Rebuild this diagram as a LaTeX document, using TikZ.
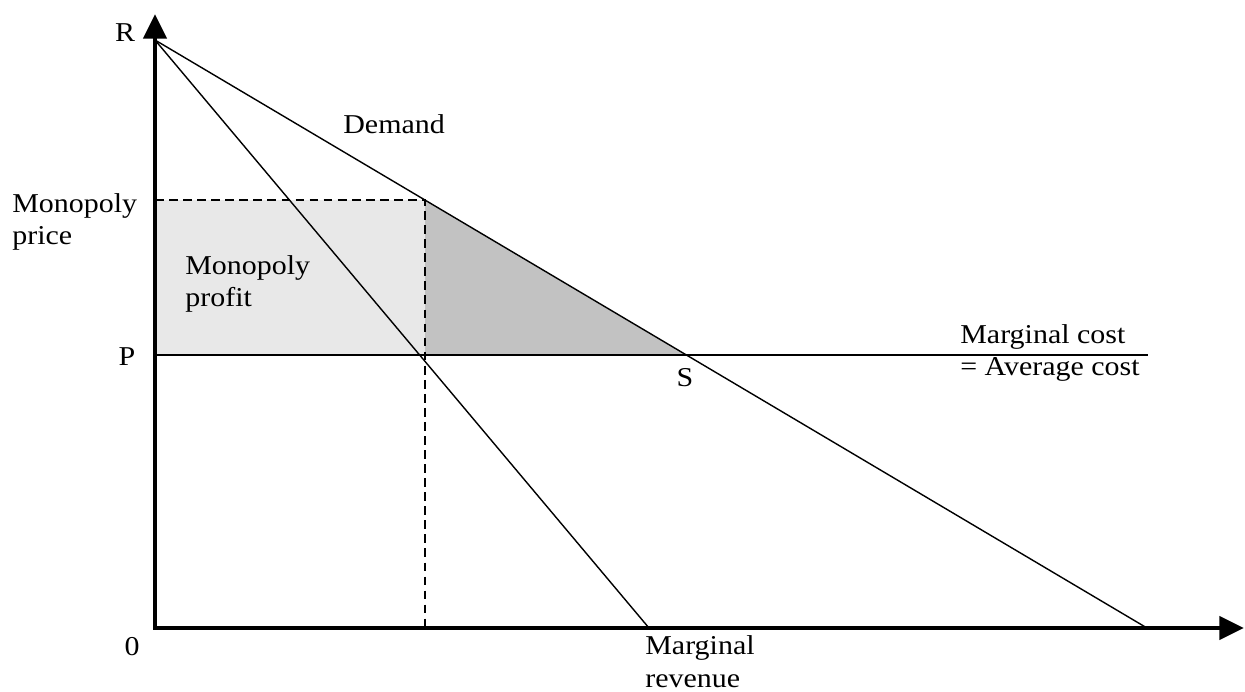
\documentclass[tikz,border=0pt]{standalone}
\usepackage{fontspec}
\setmainfont{Liberation Serif}[FakeStretch=1.1]
\usetikzlibrary{arrows.meta,positioning,patterns}
\begin{document}
\begin{tikzpicture}
	[x=0.02cm,y=-0.02cm,
	every node/.style={font=\fontsize{15.5}{18.7}\selectfont,inner sep=0pt},
	axis/.style={line width=2.8pt,line join=miter,{Triangle[width=13pt,length=14pt]}-{Triangle[width=13pt,length=14pt]}},
	curve/.style={line width=0.8pt},
	guide/.style={line width=0.8pt,dashed,dash pattern=on 5pt off 3pt}]
	\useasboundingbox (0,0) rectangle (1245,691);
	% points of the diagram
	\coordinate (O) at (155,628);
	\coordinate (R) at (155,40);
	\coordinate (P) at (155,355);
	\coordinate (M) at (155,200);
	\coordinate (A) at (425,200);
	\coordinate (B) at (425,355);
	\coordinate (S) at (686,355);
	\coordinate (Q) at (425,628);
	\coordinate (D) at (1147,628);
	\coordinate (MRend) at (649,628);
	\coordinate (MCend) at (1148,355);
	\coordinate (ytip) at (155,14);
	\coordinate (xtip) at (1244,628);
	% shaded areas
	\fill[black!9] (M) rectangle (B);
	\fill[black!24] (A) -- (B) -- (S) -- cycle;
	% lines
	\draw[curve] (R) -- (D);
	\draw[curve] (R) -- (MRend);
	\draw[curve] (P) -- (MCend);
	\draw[guide] (M) -- (A) -- (Q);
	\draw[axis] (ytip) -- (O) -- (xtip);
	% labels
	\node (labR) at (125,33) {R};
	\node[anchor=west] (labDemand) at (343,124) {Demand};
	\node[anchor=west,align=left] (labPrice) at (12,222) {Monopoly\\price};
	\node[anchor=west,align=left] (labProfit) at (185,284) {Monopoly\\profit};
	\node (labP) at (127,357) {P};
	\node (labS) at (685,378) {S};
	\node[anchor=west,align=left] (labMC) at (960,353) {Marginal cost\\= Average cost};
	\node (lab0) at (132,647) {0};
	\node[anchor=west,align=left] (labMR) at (645,662) {Marginal\\revenue};
\end{tikzpicture}
\end{document}
